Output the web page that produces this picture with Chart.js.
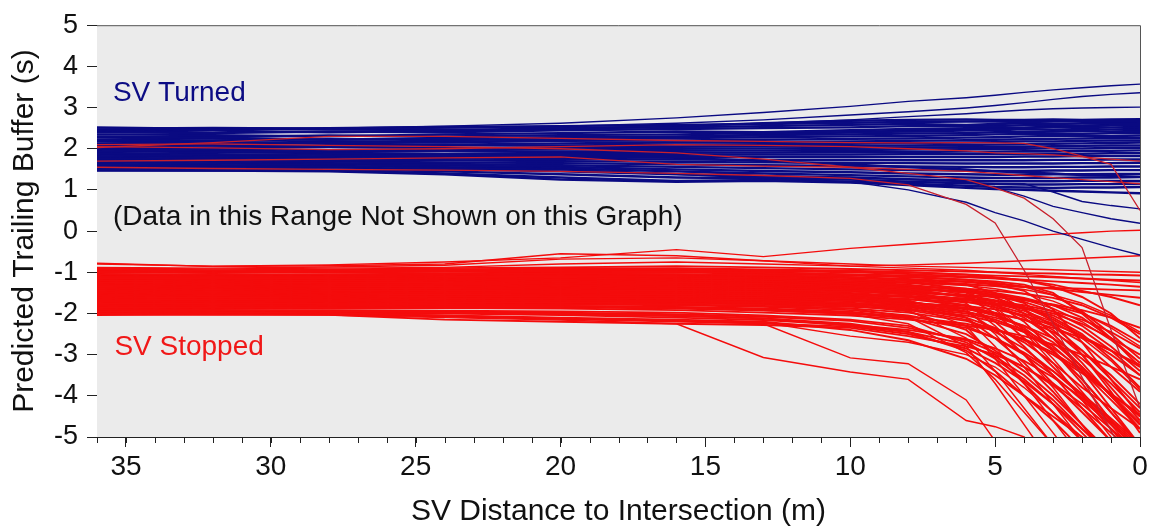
<!DOCTYPE html>
<html><head><meta charset="utf-8">
<script src="https://cdn.jsdelivr.net/npm/chart.js@4.4.1/dist/chart.umd.min.js"></script>
<style>html,body{margin:0;padding:0;background:#fff;overflow:hidden}</style>
</head><body>
<canvas id="c" width="1153" height="527"></canvas>
<script>
// ---- shared x values (SV distance to intersection, m) ----
const distances = [36, 32, 28, 24, 20, 16, 13, 10, 8, 6, 5, 4, 3, 2, 1, 0];

// ---- tick labels ----
const xTickValues = [35, 30, 25, 20, 15, 10, 5, 0];
const xMinorTickValues = [36,35,34,33,32,31,30,29,28,27,26,25,24,23,22,21,20,19,18,17,16,15,14,13,12,11,10,9,8,7,6,5,4,3,2,1,0];
const yTickValues = [-5, -4, -3, -2, -1, 0, 1, 2, 3, 4, 5];

// ---- SV Turned (blue) predicted trailing buffer, s ----
const turnedOutliers = [
  [2.50, 2.52, 2.50, 2.55, 2.62, 2.75, 2.88, 3.03, 3.15, 3.24, 3.30, 3.37, 3.43, 3.48, 3.53, 3.57],
  [2.48, 2.50, 2.47, 2.50, 2.55, 2.62, 2.70, 2.82, 2.90, 2.99, 3.05, 3.12, 3.20, 3.27, 3.32, 3.36],
  [2.45, 2.47, 2.48, 2.50, 2.52, 2.55, 2.62, 2.70, 2.78, 2.85, 2.90, 2.94, 2.97, 2.99, 3.00, 3.01]
];
const turnedUpper = [
  [2.52, 2.48, 2.50, 2.53, 2.55, 2.58, 2.60, 2.63, 2.65, 2.66, 2.66, 2.65, 2.66, 2.67, 2.67, 2.68],
  [2.45, 2.50, 2.47, 2.45, 2.50, 2.52, 2.55, 2.58, 2.60, 2.58, 2.60, 2.62, 2.60, 2.62, 2.63, 2.63],
  [2.40, 2.38, 2.42, 2.40, 2.45, 2.48, 2.50, 2.52, 2.55, 2.56, 2.55, 2.57, 2.58, 2.56, 2.57, 2.58],
  [2.35, 2.33, 2.30, 2.35, 2.38, 2.42, 2.40, 2.45, 2.48, 2.50, 2.52, 2.50, 2.52, 2.53, 2.52, 2.53],
  [2.30, 2.28, 2.32, 2.30, 2.33, 2.35, 2.38, 2.40, 2.42, 2.44, 2.45, 2.47, 2.46, 2.48, 2.47, 2.48],
  [2.27, 2.25, 2.22, 2.26, 2.28, 2.30, 2.33, 2.35, 2.37, 2.38, 2.40, 2.40, 2.42, 2.43, 2.42, 2.43],
  [2.22, 2.20, 2.23, 2.21, 2.24, 2.26, 2.28, 2.30, 2.31, 2.33, 2.35, 2.36, 2.37, 2.36, 2.38, 2.38],
  [2.18, 2.16, 2.14, 2.17, 2.19, 2.20, 2.22, 2.24, 2.25, 2.27, 2.28, 2.30, 2.31, 2.32, 2.31, 2.32],
  [2.13, 2.15, 2.12, 2.10, 2.13, 2.15, 2.16, 2.18, 2.19, 2.21, 2.22, 2.23, 2.24, 2.25, 2.26, 2.26],
  [2.10, 2.08, 2.06, 2.09, 2.08, 2.10, 2.11, 2.12, 2.14, 2.15, 2.16, 2.18, 2.18, 2.19, 2.20, 2.20],
  [2.05, 2.03, 2.05, 2.02, 2.03, 2.05, 2.06, 2.07, 2.08, 2.09, 2.10, 2.11, 2.12, 2.13, 2.14, 2.15],
  [2.42, 2.44, 2.40, 2.43, 2.47, 2.55, 2.62, 2.68, 2.70, 2.71, 2.70, 2.70, 2.71, 2.70, 2.71, 2.72],
  [2.08, 2.12, 2.18, 2.15, 2.20, 2.28, 2.34, 2.40, 2.44, 2.47, 2.49, 2.51, 2.54, 2.56, 2.58, 2.60]
];
const turnedLower = [
  [2.02, 1.99, 1.97, 1.99, 1.98, 2.00, 2.01, 2.02, 2.03, 2.04, 2.05, 2.05, 2.06, 2.07, 2.08, 2.08],
  [1.98, 1.95, 1.93, 1.95, 1.93, 1.95, 1.96, 1.97, 1.98, 1.99, 1.99, 2.00, 2.01, 2.01, 2.02, 2.02],
  [1.94, 1.92, 1.90, 1.88, 1.90, 1.90, 1.91, 1.92, 1.92, 1.93, 1.93, 1.94, 1.94, 1.95, 1.95, 1.96],
  [1.90, 1.87, 1.85, 1.84, 1.85, 1.85, 1.86, 1.86, 1.87, 1.87, 1.87, 1.88, 1.88, 1.88, 1.89, 1.89],
  [1.86, 1.83, 1.81, 1.80, 1.80, 1.80, 1.80, 1.80, 1.80, 1.80, 1.80, 1.81, 1.81, 1.82, 1.82, 1.82],
  [1.82, 1.79, 1.77, 1.76, 1.75, 1.74, 1.73, 1.73, 1.72, 1.72, 1.72, 1.72, 1.73, 1.73, 1.74, 1.74],
  [1.78, 1.75, 1.73, 1.72, 1.70, 1.68, 1.67, 1.66, 1.65, 1.64, 1.64, 1.64, 1.64, 1.65, 1.65, 1.66],
  [1.75, 1.72, 1.69, 1.67, 1.65, 1.62, 1.60, 1.58, 1.57, 1.56, 1.55, 1.55, 1.56, 1.56, 1.57, 1.57],
  [1.71, 1.68, 1.65, 1.63, 1.60, 1.56, 1.53, 1.50, 1.48, 1.47, 1.46, 1.46, 1.47, 1.47, 1.48, 1.48],
  [1.67, 1.64, 1.62, 1.59, 1.56, 1.50, 1.46, 1.43, 1.40, 1.38, 1.37, 1.37, 1.38, 1.38, 1.39, 1.39],
  [1.63, 1.60, 1.58, 1.55, 1.52, 1.45, 1.40, 1.36, 1.33, 1.30, 1.29, 1.29, 1.29, 1.30, 1.30, 1.31],
  [1.60, 1.57, 1.55, 1.50, 1.45, 1.38, 1.33, 1.30, 1.26, 1.23, 1.21, 1.21, 1.21, 1.22, 1.22, 1.22],
  [1.56, 1.53, 1.50, 1.45, 1.38, 1.30, 1.28, 1.25, 1.20, 1.16, 1.14, 1.13, 1.13, 1.14, 1.14, 1.15],
  [1.52, 1.50, 1.47, 1.40, 1.30, 1.22, 1.24, 1.20, 1.15, 1.10, 1.07, 1.06, 1.05, 1.06, 1.06, 1.07],
  [1.48, 1.47, 1.45, 1.38, 1.25, 1.20, 1.22, 1.18, 1.12, 1.05, 1.02, 1.00, 0.98, 0.96, 0.94, 0.92],
  [1.80, 1.84, 1.88, 1.85, 1.82, 1.78, 1.70, 1.62, 1.55, 1.50, 1.45, 1.42, 1.40, 1.36, 1.34, 1.32]
];
const turnedFalling = [
  [1.46, 1.46, 1.47, 1.48, 1.50, 1.40, 1.30, 1.25, 1.20, 1.18, 1.16, 1.15, 0.95, 0.72, 0.62, 0.54],
  [1.50, 1.48, 1.50, 1.52, 1.53, 1.45, 1.35, 1.30, 1.25, 1.20, 1.05, 0.85, 0.60, 0.45, 0.30, 0.19],
  [1.55, 1.52, 1.50, 1.50, 1.49, 1.38, 1.28, 1.20, 1.00, 0.70, 0.45, 0.25, 0.00, -0.20, -0.40, -0.58]
];
// stopped-SV runs whose buffer sits inside the turned band (dark red)
const stoppedHigh = [
  [2.03, 2.15, 2.30, 2.30, 2.25, 2.20, 2.18, 2.15, 2.14, 2.15, 2.14, 2.13, 2.00, 1.82, 1.62, 0.50],
  [2.05, 2.02, 1.98, 2.00, 2.05, 2.10, 2.08, 2.05, 2.00, 1.95, 1.90, 1.88, 1.85, 1.80, 1.75, 1.70],
  [1.55, 1.52, 1.50, 1.48, 1.45, 1.40, 1.35, 1.28, 1.12, 0.65, 0.20, -0.95, -2.25, -3.55, -4.85, -6.10],
  [2.10, 2.12, 2.08, 2.05, 2.00, 1.90, 1.75, 1.55, 1.40, 1.25, 1.05, 0.80, 0.30, -0.40, -2.40, -4.30],
  [1.70, 1.72, 1.75, 1.78, 1.80, 1.62, 1.58, 1.55, 1.50, 1.45, 1.40, 1.35, 1.30, 1.25, 1.20, 1.15]
];

// ---- SV Stopped (red) predicted trailing buffer, s ----
const stoppedTop = [
  [-0.80, -0.85, -0.82, -0.75, -0.65, -0.45, -0.62, -0.42, -0.32, -0.22, -0.17, -0.12, -0.08, -0.04, 0.00, 0.02],
  [-0.78, -0.86, -0.84, -0.80, -0.55, -0.60, -0.72, -0.85, -0.82, -0.78, -0.75, -0.72, -0.69, -0.66, -0.63, -0.60],
  [-0.88, -0.90, -0.87, -0.83, -0.68, -0.65, -0.72, -0.80, -0.85, -0.88, -0.90, -0.92, -0.94, -0.96, -0.98, -1.00],
  [-0.90, -0.92, -0.90, -0.88, -0.80, -0.75, -0.80, -0.85, -0.90, -0.95, -1.00, -1.05, -1.10, -1.15, -1.20, -1.25]
];
const stoppedBand = [
  [-0.92, -0.95, -0.93, -0.90, -0.88, -0.85, -0.88, -0.92, -0.95, -0.98, -1.00, -1.02, -1.03, -1.05, -1.06, -1.08],
  [-0.94, -0.96, -0.95, -0.93, -0.91, -0.90, -0.93, -0.96, -1.00, -1.06, -1.12, -1.20, -1.35, -1.60, -2.00, -2.60],
  [-0.96, -0.98, -0.97, -0.95, -0.93, -0.92, -0.95, -0.98, -1.00, -1.05, -1.08, -1.10, -1.12, -1.15, -1.18, -1.20],
  [-0.98, -1.00, -0.99, -0.97, -0.95, -0.94, -0.97, -1.00, -1.04, -1.10, -1.14, -1.18, -1.22, -1.26, -1.30, -1.35],
  [-1.00, -0.98, -1.00, -0.99, -0.98, -0.98, -1.01, -1.05, -1.10, -1.18, -1.25, -1.35, -1.55, -1.95, -2.50, -3.10],
  [-1.00, -1.02, -1.00, -0.98, -0.97, -0.96, -1.00, -1.05, -1.08, -1.12, -1.15, -1.20, -1.30, -1.45, -1.60, -1.80],
  [-1.04, -1.06, -1.05, -1.03, -1.00, -1.00, -1.04, -1.08, -1.12, -1.18, -1.22, -1.30, -1.50, -2.00, -2.60, -3.20],
  [-1.06, -1.07, -1.06, -1.05, -1.04, -1.05, -1.08, -1.12, -1.18, -1.30, -1.50, -1.90, -2.50, -3.20, -4.00, -4.80],
  [-1.08, -1.10, -1.08, -1.06, -1.05, -1.05, -1.08, -1.12, -1.16, -1.22, -1.28, -1.35, -1.40, -1.48, -1.55, -1.62],
  [-1.10, -1.12, -1.10, -1.08, -1.07, -1.08, -1.10, -1.14, -1.18, -1.24, -1.30, -1.45, -1.90, -2.70, -3.60, -4.50],
  [-1.12, -1.13, -1.12, -1.10, -1.09, -1.10, -1.13, -1.18, -1.25, -1.40, -1.60, -2.00, -2.60, -3.30, -4.00, -4.70],
  [-1.14, -1.15, -1.14, -1.13, -1.12, -1.13, -1.16, -1.22, -1.30, -1.45, -1.62, -1.85, -2.15, -2.55, -3.00, -3.50],
  [-1.16, -1.17, -1.16, -1.15, -1.13, -1.14, -1.17, -1.22, -1.26, -1.30, -1.33, -1.36, -1.38, -1.40, -1.42, -1.44],
  [-1.18, -1.19, -1.18, -1.17, -1.16, -1.17, -1.20, -1.25, -1.32, -1.42, -1.50, -1.62, -1.80, -2.10, -2.60, -3.30],
  [-1.20, -1.21, -1.20, -1.19, -1.18, -1.19, -1.22, -1.28, -1.35, -1.50, -1.75, -2.20, -2.90, -3.60, -4.40, -5.20],
  [-1.22, -1.23, -1.22, -1.21, -1.20, -1.21, -1.24, -1.30, -1.40, -1.60, -1.80, -2.10, -2.60, -3.40, -4.30, -5.20],
  [-1.24, -1.25, -1.24, -1.23, -1.22, -1.23, -1.26, -1.30, -1.34, -1.40, -1.45, -1.52, -1.62, -1.80, -2.10, -2.50],
  [-1.26, -1.27, -1.26, -1.25, -1.24, -1.25, -1.28, -1.32, -1.38, -1.48, -1.58, -1.72, -1.95, -2.30, -2.80, -3.40],
  [-1.28, -1.29, -1.28, -1.27, -1.26, -1.27, -1.30, -1.35, -1.42, -1.60, -2.00, -2.60, -3.30, -4.00, -4.80, -5.60],
  [-1.30, -1.31, -1.30, -1.29, -1.28, -1.29, -1.32, -1.36, -1.40, -1.46, -1.55, -1.75, -2.20, -3.00, -3.90, -4.90],
  [-1.32, -1.33, -1.32, -1.31, -1.30, -1.31, -1.34, -1.38, -1.42, -1.48, -1.55, -1.65, -1.80, -2.00, -2.30, -2.70],
  [-1.34, -1.35, -1.34, -1.33, -1.32, -1.33, -1.36, -1.40, -1.46, -1.56, -1.68, -1.85, -2.10, -2.50, -3.10, -3.80],
  [-1.36, -1.37, -1.36, -1.35, -1.34, -1.35, -1.38, -1.42, -1.48, -1.58, -1.70, -1.90, -2.30, -2.90, -3.60, -4.30],
  [-1.38, -1.39, -1.38, -1.37, -1.36, -1.37, -1.40, -1.45, -1.52, -1.65, -1.80, -2.00, -2.25, -2.55, -2.90, -3.30],
  [-1.40, -1.41, -1.40, -1.39, -1.38, -1.39, -1.42, -1.46, -1.50, -1.55, -1.60, -1.68, -1.78, -1.92, -2.10, -2.35],
  [-1.42, -1.43, -1.42, -1.41, -1.40, -1.41, -1.44, -1.50, -1.58, -1.72, -1.85, -2.05, -2.40, -3.00, -3.80, -4.60],
  [-1.44, -1.45, -1.44, -1.43, -1.42, -1.43, -1.46, -1.52, -1.60, -1.80, -2.20, -2.80, -3.50, -4.30, -5.10, -5.90],
  [-1.46, -1.47, -1.46, -1.45, -1.44, -1.45, -1.48, -1.53, -1.58, -1.64, -1.70, -1.80, -1.95, -2.15, -2.45, -2.85],
  [-1.48, -1.49, -1.48, -1.47, -1.46, -1.47, -1.50, -1.55, -1.60, -1.68, -1.75, -1.85, -2.00, -2.25, -2.60, -3.00],
  [-1.50, -1.51, -1.50, -1.49, -1.48, -1.49, -1.52, -1.58, -1.65, -1.80, -2.00, -2.35, -2.90, -3.70, -4.60, -5.50],
  [-1.52, -1.53, -1.52, -1.51, -1.50, -1.51, -1.54, -1.60, -1.70, -1.95, -2.40, -3.00, -3.70, -4.40, -5.10, -5.80],
  [-1.54, -1.55, -1.54, -1.53, -1.52, -1.53, -1.56, -1.62, -1.72, -1.88, -2.05, -2.30, -2.70, -3.30, -4.00, -4.70],
  [-1.56, -1.57, -1.56, -1.55, -1.54, -1.55, -1.58, -1.62, -1.66, -1.72, -1.78, -1.88, -2.05, -2.40, -2.90, -3.50],
  [-1.58, -1.59, -1.58, -1.57, -1.56, -1.57, -1.60, -1.66, -1.74, -1.86, -1.98, -2.15, -2.45, -2.90, -3.50, -4.20],
  [-1.60, -1.61, -1.60, -1.59, -1.58, -1.59, -1.62, -1.68, -1.80, -2.10, -2.60, -3.20, -3.90, -4.70, -5.50, -6.20],
  [-1.62, -1.63, -1.62, -1.61, -1.60, -1.61, -1.64, -1.70, -1.78, -1.90, -2.00, -2.15, -2.35, -2.60, -2.90, -3.25],
  [-1.64, -1.65, -1.64, -1.63, -1.62, -1.63, -1.66, -1.70, -1.75, -1.82, -1.90, -2.05, -2.30, -2.70, -3.30, -3.90],
  [-1.66, -1.67, -1.66, -1.65, -1.64, -1.65, -1.68, -1.74, -1.82, -1.96, -2.10, -2.30, -2.60, -3.10, -3.70, -4.40],
  [-1.68, -1.69, -1.68, -1.67, -1.66, -1.67, -1.70, -1.76, -1.85, -2.00, -2.15, -2.40, -2.80, -3.40, -4.10, -4.80],
  [-1.70, -1.71, -1.70, -1.69, -1.68, -1.69, -1.72, -1.78, -1.88, -2.10, -2.35, -2.70, -3.20, -3.80, -4.30, -4.80],
  [-1.72, -1.73, -1.72, -1.71, -1.70, -1.71, -1.74, -1.80, -1.95, -2.40, -3.00, -3.70, -4.40, -5.10, -5.80, -6.50],
  [-1.74, -1.75, -1.74, -1.73, -1.72, -1.73, -1.76, -1.82, -1.92, -2.15, -2.45, -2.85, -3.40, -4.00, -4.60, -5.20],
  [-1.76, -1.77, -1.76, -1.75, -1.74, -1.75, -1.78, -1.84, -1.90, -2.05, -2.20, -2.45, -2.90, -3.60, -4.40, -5.20],
  [-1.78, -1.79, -1.78, -1.77, -1.76, -1.78, -1.82, -1.88, -1.98, -2.18, -2.38, -2.65, -3.00, -3.45, -3.95, -4.45],
  [-1.80, -1.81, -1.80, -1.79, -1.78, -1.80, -1.84, -1.92, -2.05, -2.30, -2.60, -3.00, -3.50, -4.10, -4.70, -5.30],
  [-1.82, -1.83, -1.82, -1.81, -1.82, -1.85, -1.90, -1.98, -2.08, -2.25, -2.40, -2.62, -2.95, -3.40, -3.95, -4.50],
  [-1.84, -1.85, -1.84, -1.83, -1.82, -1.84, -1.88, -1.96, -2.10, -2.50, -2.90, -3.40, -4.00, -4.70, -5.40, -6.10],
  [-1.86, -1.87, -1.86, -1.85, -1.85, -1.88, -1.93, -2.00, -2.12, -2.35, -2.60, -2.95, -3.40, -3.95, -4.55, -5.15],
  [-1.88, -1.89, -1.88, -1.87, -1.88, -1.92, -1.98, -2.05, -2.15, -2.30, -2.40, -2.55, -2.75, -3.00, -3.30, -3.60],
  [-1.90, -1.92, -1.94, -1.97, -2.00, -2.05, -2.12, -2.30, -2.45, -2.75, -3.05, -3.50, -4.10, -4.80, -5.50, -6.20],
  [-1.92, -1.93, -1.92, -1.93, -1.95, -1.98, -2.05, -2.15, -2.30, -2.70, -3.10, -3.60, -4.20, -4.90, -5.60, -6.30],
  [-1.94, -1.95, -1.94, -1.95, -1.98, -2.02, -2.08, -2.18, -2.35, -2.65, -2.95, -3.30, -3.75, -4.30, -4.90, -5.50],
  [-1.96, -1.97, -1.96, -1.98, -2.02, -2.06, -2.12, -2.25, -2.45, -2.90, -3.40, -4.00, -4.60, -5.30, -6.00, -6.70],
  [-1.98, -1.99, -1.98, -2.00, -2.04, -2.10, -2.16, -2.28, -2.40, -2.62, -2.85, -3.15, -3.55, -4.05, -4.65, -5.25],
  [-2.00, -2.01, -2.00, -2.05, -2.10, -2.15, -2.20, -2.40, -2.65, -3.10, -3.50, -4.00, -4.50, -5.00, -5.50, -6.00],
  [-2.02, -2.03, -2.02, -2.06, -2.12, -2.18, -2.24, -2.32, -2.50, -2.85, -3.20, -3.65, -4.20, -4.80, -5.40, -6.00],
  [-2.04, -2.02, -2.03, -2.15, -2.20, -2.25, -2.28, -2.35, -2.55, -2.80, -3.00, -3.30, -3.70, -4.20, -4.80, -5.40]
];
const stoppedSteep = [
  [-1.05, -1.06, -1.05, -1.04, -1.03, -1.04, -1.07, -1.12, -1.20, -1.45, -1.85, -2.40, -3.10, -3.90, -4.70, -5.50],
  [-1.15, -1.16, -1.15, -1.14, -1.13, -1.14, -1.17, -1.23, -1.32, -1.55, -1.90, -2.45, -3.20, -4.10, -5.00, -5.90],
  [-1.25, -1.26, -1.25, -1.24, -1.23, -1.24, -1.27, -1.33, -1.45, -1.75, -2.30, -3.00, -3.80, -4.70, -5.60, -6.50],
  [-1.35, -1.36, -1.35, -1.34, -1.33, -1.34, -1.37, -1.43, -1.55, -1.90, -2.50, -3.30, -4.20, -5.10, -6.00, -6.90],
  [-1.45, -1.46, -1.45, -1.44, -1.43, -1.44, -1.47, -1.54, -1.68, -2.10, -2.80, -3.70, -4.60, -5.50, -6.40, -7.30],
  [-1.55, -1.56, -1.55, -1.54, -1.53, -1.54, -1.57, -1.64, -1.78, -2.30, -3.10, -4.00, -4.90, -5.80, -6.70, -7.60],
  [-1.65, -1.66, -1.65, -1.64, -1.63, -1.64, -1.67, -1.75, -1.92, -2.60, -3.40, -4.30, -5.20, -6.10, -7.00, -7.90],
  [-1.75, -1.76, -1.75, -1.74, -1.73, -1.75, -1.79, -1.88, -2.08, -2.80, -3.70, -4.70, -5.70, -6.70, -7.70, -8.70],
  [-1.85, -1.86, -1.85, -1.84, -1.84, -1.87, -1.92, -2.02, -2.25, -2.95, -3.60, -4.40, -5.20, -6.00, -6.80, -7.60],
  [-1.12, -1.13, -1.12, -1.11, -1.10, -1.11, -1.14, -1.19, -1.24, -1.32, -1.40, -1.52, -1.70, -1.98, -2.35, -2.80],
  [-1.20, -1.21, -1.20, -1.19, -1.18, -1.19, -1.22, -1.27, -1.33, -1.42, -1.52, -1.66, -1.88, -2.20, -2.65, -3.20],
  [-1.40, -1.41, -1.40, -1.39, -1.38, -1.39, -1.42, -1.47, -1.54, -1.64, -1.76, -1.94, -2.20, -2.60, -3.15, -3.85],
  [-1.60, -1.61, -1.60, -1.59, -1.58, -1.59, -1.62, -1.69, -1.78, -1.95, -2.15, -2.45, -2.85, -3.35, -3.95, -4.65],
  [-1.10, -1.11, -1.10, -1.09, -1.08, -1.09, -1.12, -1.17, -1.22, -1.28, -1.34, -1.42, -1.55, -1.75, -2.05, -2.45]
];
const stoppedEarlyDrop = [
  [-1.95, -1.97, -1.99, -2.05, -2.12, -2.18, -2.22, -2.55, -2.70, -3.00, -3.30, -3.80, -4.40, -5.00, -5.60, -6.20],
  [-2.00, -2.02, -2.04, -2.10, -2.16, -2.25, -3.07, -3.42, -3.60, -4.60, -4.75, -5.00, -5.50, -6.00, -6.50, -7.00],
  [-1.98, -2.00, -2.02, -2.08, -2.14, -2.20, -2.25, -3.08, -3.22, -4.10, -5.10, -5.60, -6.10, -6.60, -7.10, -7.60]
];

// ---- annotation texts ----
const noteTexts = ['SV Turned', '(Data in this Range Not Shown on this Graph)', 'SV Stopped'];
const noteX = [35.45, 35.45, 35.4];
const noteY = [3.34, 0.33, -2.83];
const noteColors = ['#0c0c84', '#111111', '#f01818'];

// ---- styling ----
const BLUE = '#0a0a82';
const RED = '#f40c0c';
const DARKRED = '#c8202c';
const FONT = "'Liberation Sans', Arial, Helvetica, sans-serif";

function toPoints(row) { return distances.map((d, i) => ({x: d, y: row[i]})); }
function mk(row, color, w) {
  return {data: toPoints(row), borderColor: color, borderWidth: w, pointRadius: 0,
          pointHoverRadius: 0, tension: 0, fill: false, clip: 0};
}

const datasets = [];
stoppedHigh.forEach(r => datasets.push(mk(r, DARKRED, 1.3)));
turnedFalling.forEach(r => datasets.push(mk(r, BLUE, 1.4)));
turnedOutliers.forEach(r => datasets.push(mk(r, BLUE, 1.4)));
turnedUpper.forEach(r => datasets.push(mk(r, BLUE, 2.4)));
turnedLower.forEach(r => datasets.push(mk(r, BLUE, 2.4)));
stoppedTop.forEach(r => datasets.push(mk(r, RED, 1.4)));
stoppedEarlyDrop.forEach(r => datasets.push(mk(r, RED, 1.4)));
stoppedSteep.forEach(r => datasets.push(mk(r, RED, 1.5)));
stoppedBand.forEach(r => datasets.push(mk(r, RED, 1.9)));

const framePlugin = {
  id: 'frame',
  beforeDatasetsDraw(chart) {
    const {ctx, chartArea: a} = chart;
    ctx.save();
    ctx.fillStyle = '#ebebeb';
    ctx.fillRect(a.left, a.top, a.right - a.left, a.bottom - a.top);
    ctx.restore();
  },
  afterDatasetsDraw(chart) {
    const {ctx, chartArea: a, scales} = chart;
    ctx.save();
    ctx.strokeStyle = '#555';
    ctx.lineWidth = 1;
    ctx.beginPath();
    ctx.moveTo(a.left, a.top + 0.5); ctx.lineTo(a.right + 0.5, a.top + 0.5); ctx.lineTo(a.right + 0.5, a.bottom);
    ctx.stroke();
    ctx.strokeStyle = '#222';
    ctx.beginPath();
    xMinorTickValues.forEach(v => {
      const px = Math.round(scales.x.getPixelForValue(v)) + 0.5;
      ctx.moveTo(px, a.bottom); ctx.lineTo(px, a.bottom + 6);
    });
    ctx.stroke();
    ctx.font = '28px ' + FONT;
    ctx.textBaseline = 'middle';
    ctx.textAlign = 'left';
    noteTexts.forEach((t, i) => {
      ctx.fillStyle = noteColors[i];
      ctx.fillText(t, scales.x.getPixelForValue(noteX[i]), scales.y.getPixelForValue(noteY[i]));
    });
    ctx.restore();
  }
};

new Chart(document.getElementById('c'), {
  type: 'line',
  data: {datasets},
  plugins: [framePlugin],
  options: {
    responsive: false,
    animation: false,
    devicePixelRatio: 1,
    layout: {padding: {top: 18, right: 13, left: 0, bottom: 0}},
    plugins: {legend: {display: false}, tooltip: {enabled: false}},
    events: [],
    scales: {
      x: {
        type: 'linear', reverse: true, min: 0, max: 36,
        afterFit(s) { s.height = 90; },
        afterBuildTicks(s) { s.ticks = xTickValues.map(v => ({value: v})); },
        ticks: {font: {family: FONT, size: 28}, color: '#111', padding: 3, maxRotation: 0, autoSkip: false},
        grid: {drawOnChartArea: false, drawTicks: true, tickLength: 10, color: '#222'},
        border: {display: true, color: '#222', width: 1},
        title: {display: true, text: 'SV Distance to Intersection (m)', font: {family: FONT, size: 30, lineHeight: 1},
                color: '#111', padding: {top: 0, bottom: 0}}
      },
      y: {
        type: 'linear', min: -5, max: 5,
        afterFit(s) { s.width = 97; },
        afterBuildTicks(s) { s.ticks = yTickValues.map(v => ({value: v})); },
        ticks: {font: {family: FONT, size: 27}, color: '#111', padding: 9, autoSkip: false},
        grid: {drawOnChartArea: false, drawTicks: true, tickLength: 10, color: '#222'},
        border: {display: true, color: '#222', width: 1},
        title: {display: true, text: 'Predicted Trailing Buffer (s)', font: {family: FONT, size: 30, lineHeight: 1},
                color: '#111', padding: {top: 10, bottom: 0}}
      }
    }
  }
});
</script>
</body></html>
